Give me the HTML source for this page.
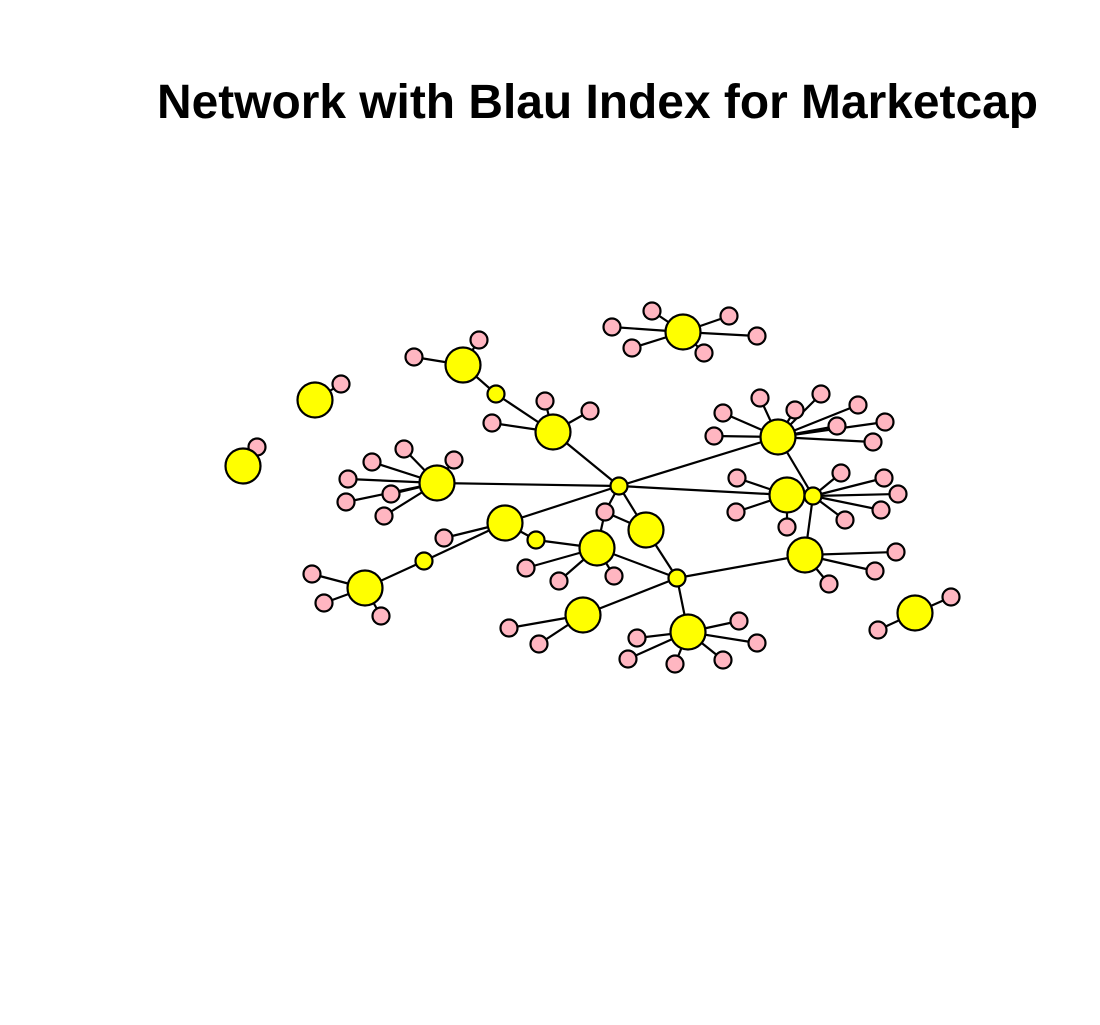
<!DOCTYPE html>
<html><head><meta charset="utf-8"><style>html,body{margin:0;padding:0;background:#fff}svg{display:block}</style></head>
<body>
<svg width="1100" height="1025" viewBox="0 0 1100 1025" xmlns="http://www.w3.org/2000/svg">
<text x="157" y="118" font-family="Liberation Sans, sans-serif" font-weight="bold" font-size="48" textLength="881" lengthAdjust="spacingAndGlyphs">Network with Blau Index for Marketcap</text>
<g stroke="#000" stroke-width="2.2" fill="none">
<line x1="243" y1="466" x2="257" y2="447"/>
<line x1="315" y1="400" x2="341" y2="384"/>
<line x1="915" y1="613" x2="951" y2="597"/><line x1="915" y1="613" x2="878" y2="630"/>
<line x1="683" y1="332" x2="612" y2="327"/><line x1="683" y1="332" x2="652" y2="311"/><line x1="683" y1="332" x2="729" y2="316"/><line x1="683" y1="332" x2="757" y2="336"/><line x1="683" y1="332" x2="704" y2="353"/><line x1="683" y1="332" x2="632" y2="348"/>
<line x1="463" y1="365" x2="414" y2="357"/><line x1="463" y1="365" x2="479" y2="340"/><line x1="463" y1="365" x2="496" y2="394"/><line x1="496" y1="394" x2="553" y2="432"/>
<line x1="553" y1="432" x2="545" y2="401"/><line x1="553" y1="432" x2="590" y2="411"/><line x1="553" y1="432" x2="492" y2="423"/><line x1="553" y1="432" x2="619" y2="486"/>
<line x1="437" y1="483" x2="348" y2="479"/><line x1="437" y1="483" x2="372" y2="462"/><line x1="437" y1="483" x2="404" y2="449"/><line x1="437" y1="483" x2="454" y2="460"/><line x1="437" y1="483" x2="391" y2="494"/><line x1="437" y1="483" x2="346" y2="502"/><line x1="437" y1="483" x2="384" y2="516"/><line x1="437" y1="483" x2="619" y2="486"/>
<line x1="505" y1="523" x2="444" y2="538"/><line x1="505" y1="523" x2="619" y2="486"/><line x1="505" y1="523" x2="536" y2="540"/><line x1="536" y1="540" x2="597" y2="548"/><line x1="505" y1="523" x2="424" y2="561"/><line x1="424" y1="561" x2="365" y2="588"/>
<line x1="365" y1="588" x2="312" y2="574"/><line x1="365" y1="588" x2="324" y2="603"/><line x1="365" y1="588" x2="381" y2="616"/>
<line x1="597" y1="548" x2="526" y2="568"/><line x1="597" y1="548" x2="559" y2="581"/><line x1="597" y1="548" x2="614" y2="576"/><line x1="597" y1="548" x2="605" y2="512"/><line x1="605" y1="512" x2="619" y2="486"/><line x1="605" y1="512" x2="646" y2="530"/><line x1="619" y1="486" x2="646" y2="530"/><line x1="646" y1="530" x2="677" y2="578"/><line x1="597" y1="548" x2="677" y2="578"/>
<line x1="677" y1="578" x2="583" y2="615"/><line x1="583" y1="615" x2="509" y2="628"/><line x1="583" y1="615" x2="539" y2="644"/>
<line x1="677" y1="578" x2="688" y2="632"/><line x1="688" y1="632" x2="637" y2="638"/><line x1="688" y1="632" x2="628" y2="659"/><line x1="688" y1="632" x2="675" y2="664"/><line x1="688" y1="632" x2="723" y2="660"/><line x1="688" y1="632" x2="757" y2="643"/><line x1="688" y1="632" x2="739" y2="621"/>
<line x1="677" y1="578" x2="805" y2="555"/><line x1="805" y1="555" x2="896" y2="552"/><line x1="805" y1="555" x2="875" y2="571"/><line x1="805" y1="555" x2="829" y2="584"/><line x1="805" y1="555" x2="813" y2="496"/>
<line x1="619" y1="486" x2="787" y2="495"/><line x1="787" y1="495" x2="737" y2="478"/><line x1="787" y1="495" x2="736" y2="512"/><line x1="787" y1="495" x2="787" y2="527"/><line x1="787" y1="495" x2="813" y2="496"/>
<line x1="813" y1="496" x2="841" y2="473"/><line x1="813" y1="496" x2="884" y2="478"/><line x1="813" y1="496" x2="898" y2="494"/><line x1="813" y1="496" x2="881" y2="510"/><line x1="813" y1="496" x2="845" y2="520"/><line x1="813" y1="496" x2="778" y2="437"/>
<line x1="619" y1="486" x2="778" y2="437"/>
<line x1="778" y1="437" x2="714" y2="436"/><line x1="778" y1="437" x2="723" y2="413"/><line x1="778" y1="437" x2="760" y2="398"/><line x1="778" y1="437" x2="795" y2="410"/><line x1="778" y1="437" x2="821" y2="394"/><line x1="778" y1="437" x2="858" y2="405"/><line x1="778" y1="437" x2="837" y2="426"/><line x1="778" y1="437" x2="885" y2="422"/><line x1="778" y1="437" x2="873" y2="442"/>
</g>
<g stroke="#000" stroke-width="2.2" fill="#FFB6C1">
<circle cx="257" cy="447" r="8.5"/><circle cx="341" cy="384" r="8.5"/><circle cx="951" cy="597" r="8.5"/><circle cx="878" cy="630" r="8.5"/>
<circle cx="612" cy="327" r="8.5"/><circle cx="652" cy="311" r="8.5"/><circle cx="729" cy="316" r="8.5"/><circle cx="757" cy="336" r="8.5"/><circle cx="704" cy="353" r="8.5"/><circle cx="632" cy="348" r="8.5"/>
<circle cx="414" cy="357" r="8.5"/><circle cx="479" cy="340" r="8.5"/><circle cx="545" cy="401" r="8.5"/><circle cx="590" cy="411" r="8.5"/><circle cx="492" cy="423" r="8.5"/>
<circle cx="348" cy="479" r="8.5"/><circle cx="372" cy="462" r="8.5"/><circle cx="404" cy="449" r="8.5"/><circle cx="454" cy="460" r="8.5"/><circle cx="391" cy="494" r="8.5"/><circle cx="346" cy="502" r="8.5"/><circle cx="384" cy="516" r="8.5"/>
<circle cx="444" cy="538" r="8.5"/><circle cx="312" cy="574" r="8.5"/><circle cx="324" cy="603" r="8.5"/><circle cx="381" cy="616" r="8.5"/>
<circle cx="526" cy="568" r="8.5"/><circle cx="559" cy="581" r="8.5"/><circle cx="614" cy="576" r="8.5"/><circle cx="605" cy="512" r="8.5"/>
<circle cx="509" cy="628" r="8.5"/><circle cx="539" cy="644" r="8.5"/>
<circle cx="637" cy="638" r="8.5"/><circle cx="628" cy="659" r="8.5"/><circle cx="675" cy="664" r="8.5"/><circle cx="723" cy="660" r="8.5"/><circle cx="757" cy="643" r="8.5"/><circle cx="739" cy="621" r="8.5"/>
<circle cx="896" cy="552" r="8.5"/><circle cx="875" cy="571" r="8.5"/><circle cx="829" cy="584" r="8.5"/>
<circle cx="737" cy="478" r="8.5"/><circle cx="736" cy="512" r="8.5"/><circle cx="787" cy="527" r="8.5"/>
<circle cx="841" cy="473" r="8.5"/><circle cx="884" cy="478" r="8.5"/><circle cx="898" cy="494" r="8.5"/><circle cx="881" cy="510" r="8.5"/><circle cx="845" cy="520" r="8.5"/>
<circle cx="714" cy="436" r="8.5"/><circle cx="723" cy="413" r="8.5"/><circle cx="760" cy="398" r="8.5"/><circle cx="795" cy="410" r="8.5"/><circle cx="821" cy="394" r="8.5"/><circle cx="858" cy="405" r="8.5"/><circle cx="837" cy="426" r="8.5"/><circle cx="885" cy="422" r="8.5"/><circle cx="873" cy="442" r="8.5"/>
</g>
<g stroke="#000" stroke-width="2.2" fill="#FFFF00">
<circle cx="243" cy="466" r="17.5"/><circle cx="315" cy="400" r="17.5"/><circle cx="915" cy="613" r="17.5"/>
<circle cx="683" cy="332" r="17.5"/><circle cx="463" cy="365" r="17.5"/><circle cx="553" cy="432" r="17.5"/><circle cx="437" cy="483" r="17.5"/>
<circle cx="505" cy="523" r="17.5"/><circle cx="365" cy="588" r="17.5"/><circle cx="597" cy="548" r="17.5"/><circle cx="646" cy="530" r="17.5"/>
<circle cx="583" cy="615" r="17.5"/><circle cx="688" cy="632" r="17.5"/><circle cx="805" cy="555" r="17.5"/><circle cx="787" cy="495" r="17.5"/><circle cx="778" cy="437" r="17.5"/>
<circle cx="496" cy="394" r="8.5"/><circle cx="619" cy="486" r="8.5"/><circle cx="536" cy="540" r="8.5"/><circle cx="424" cy="561" r="8.5"/><circle cx="677" cy="578" r="8.5"/><circle cx="813" cy="496" r="8.5"/>
</g>
</svg>
</body></html>
